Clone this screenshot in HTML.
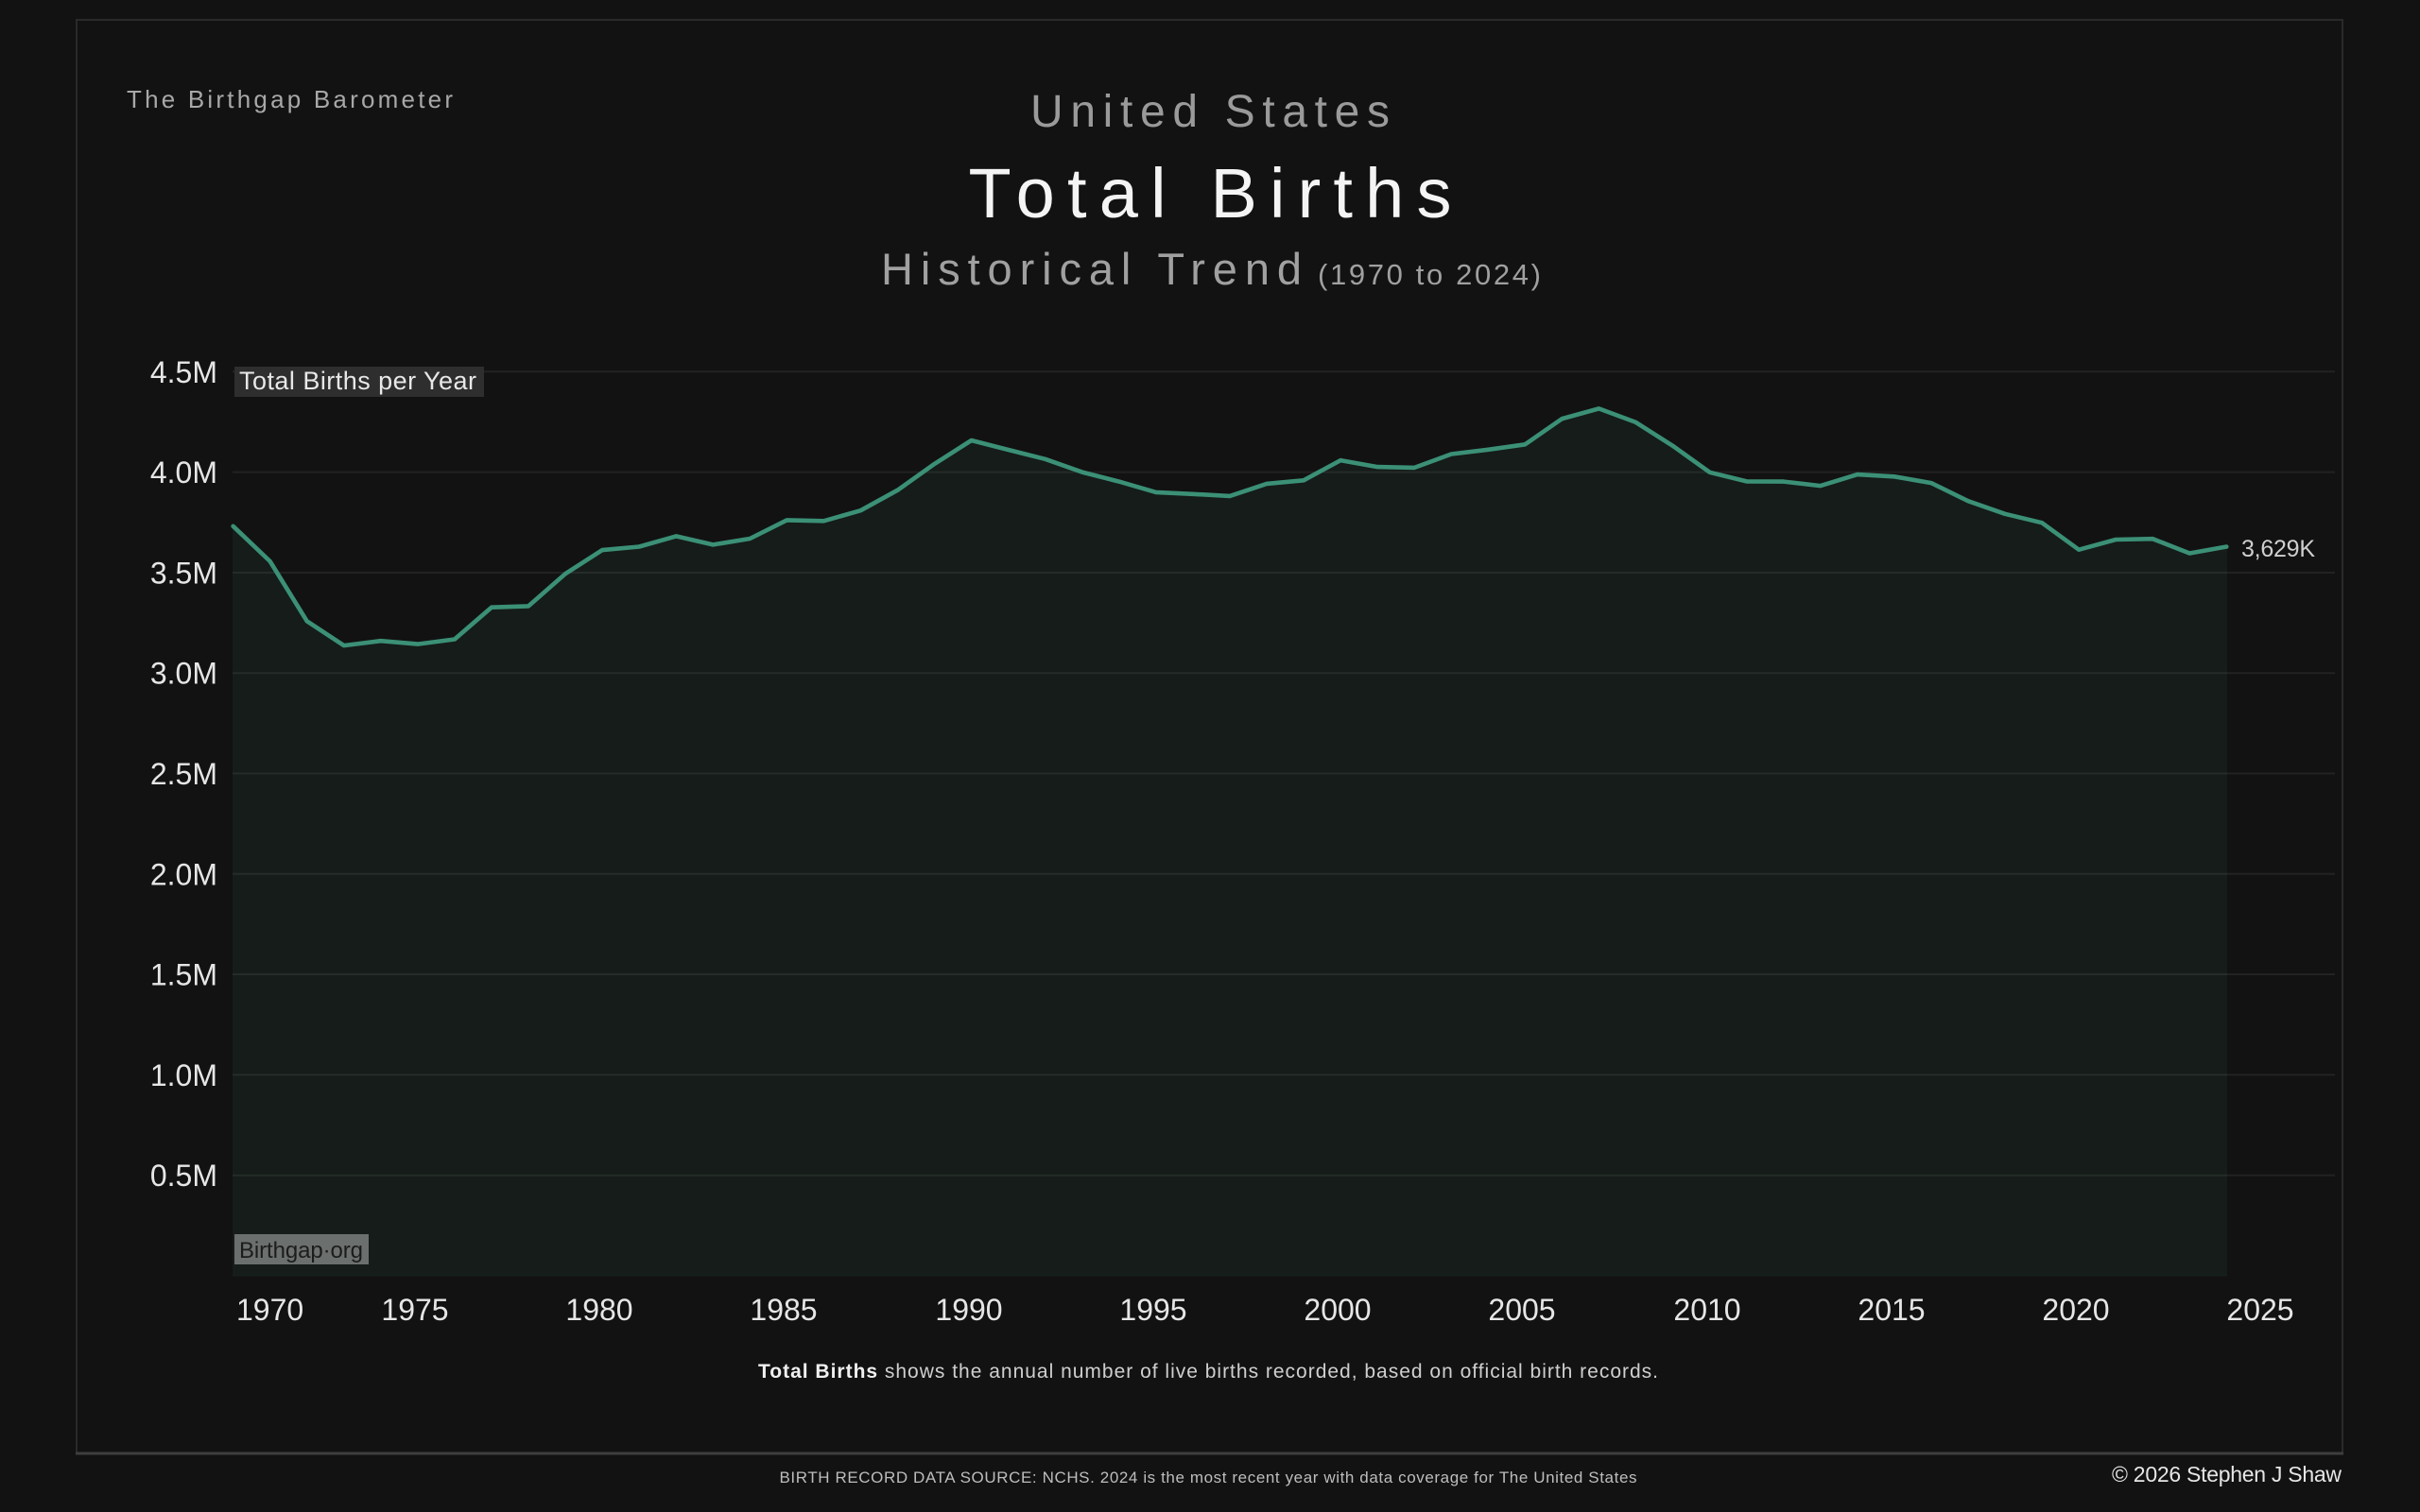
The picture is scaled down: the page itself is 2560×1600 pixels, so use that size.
<!DOCTYPE html>
<html>
<head>
<meta charset="utf-8">
<style>
html,body{margin:0;padding:0;background:#121212;}
body{width:2560px;height:1600px;overflow:hidden;}
svg{display:block;}
text{font-family:"Liberation Sans",sans-serif;}
</style>
</head>
<body>
<svg width="2560" height="1600" viewBox="0 0 2560 1600" xmlns="http://www.w3.org/2000/svg">
<rect x="0" y="0" width="2560" height="1600" fill="#121212"/>
<!-- frame -->
<rect x="81" y="21" width="2397" height="1517" fill="none" stroke="#2a2a2a" stroke-width="2"/>
<line x1="80" y1="1538" x2="2479" y2="1538" stroke="#3e3e3e" stroke-width="3"/>

<!-- header -->
<text x="134" y="114" font-size="26" fill="#a8a8a8" textLength="345">The Birthgap Barometer</text>
<text x="1280" y="134" font-size="48" fill="#9a9a9a" text-anchor="middle" textLength="380">United States</text>
<text x="1280" y="230" font-size="74" fill="#f4f4f4" text-anchor="middle" textLength="511">Total Births</text>
<text x="932" y="301" font-size="47" fill="#a0a0a0" textLength="445">Historical Trend</text>
<text x="1394" y="301" font-size="31" fill="#a0a0a0" textLength="236">(1970 to 2024)</text>

<!-- gridlines -->
<g stroke="#222222" stroke-width="2">
<line x1="246" y1="393.3" x2="2470" y2="393.3"/>
<line x1="246" y1="499.6" x2="2470" y2="499.6"/>
<line x1="246" y1="606" x2="2470" y2="606"/>
<line x1="246" y1="712.2" x2="2470" y2="712.2"/>
<line x1="246" y1="818.5" x2="2470" y2="818.5"/>
<line x1="246" y1="924.8" x2="2470" y2="924.8"/>
<line x1="246" y1="1031" x2="2470" y2="1031"/>
<line x1="246" y1="1137.4" x2="2470" y2="1137.4"/>
<line x1="246" y1="1243.7" x2="2470" y2="1243.7"/>
</g>

<!-- area -->
<polygon fill="#3e9479" fill-opacity="0.08" stroke="#3e9479" stroke-opacity="0.06" stroke-width="1.5" points="246.6,1350 246.6,556.8 285.65,594.0 324.7,657.3 363.75,683.1 402.8,678.2 441.85,681.6 480.9,676.5 519.95,642.7 559.0,641.4 598.05,607.2 637.1,582.1 676.15,578.5 715.2,567.4 754.25,576.4 793.3,570.0 832.35,550.4 871.4,551.3 910.45,540.2 949.5,518.7 988.55,490.9 1027.6,466.0 1066.65,476.0 1105.7,485.8 1144.75,499.6 1183.8,509.6 1222.85,520.9 1261.9,522.8 1300.95,524.9 1340.0,511.9 1379.05,508.3 1418.1,487.1 1457.15,494.1 1496.2,494.9 1535.25,480.5 1574.3,475.8 1613.35,470.3 1652.4,443.1 1691.45,432.4 1730.5,446.9 1769.55,471.8 1808.6,499.8 1847.65,509.4 1886.7,509.6 1925.75,514.1 1964.8,502.1 2003.85,504.3 2042.9,511.1 2081.95,530.2 2121.0,543.8 2160.05,553.2 2199.1,581.7 2238.15,571.0 2277.2,570.2 2316.25,585.5 2355.3,578.5 2355.3,1350"/>

<!-- line -->
<polyline fill="none" stroke="#3b9076" stroke-width="4.6" stroke-linejoin="round" stroke-linecap="round" points="246.6,556.8 285.65,594.0 324.7,657.3 363.75,683.1 402.8,678.2 441.85,681.6 480.9,676.5 519.95,642.7 559.0,641.4 598.05,607.2 637.1,582.1 676.15,578.5 715.2,567.4 754.25,576.4 793.3,570.0 832.35,550.4 871.4,551.3 910.45,540.2 949.5,518.7 988.55,490.9 1027.6,466.0 1066.65,476.0 1105.7,485.8 1144.75,499.6 1183.8,509.6 1222.85,520.9 1261.9,522.8 1300.95,524.9 1340.0,511.9 1379.05,508.3 1418.1,487.1 1457.15,494.1 1496.2,494.9 1535.25,480.5 1574.3,475.8 1613.35,470.3 1652.4,443.1 1691.45,432.4 1730.5,446.9 1769.55,471.8 1808.6,499.8 1847.65,509.4 1886.7,509.6 1925.75,514.1 1964.8,502.1 2003.85,504.3 2042.9,511.1 2081.95,530.2 2121.0,543.8 2160.05,553.2 2199.1,581.7 2238.15,571.0 2277.2,570.2 2316.25,585.5 2355.3,578.5"/>

<!-- end label -->
<text x="2371" y="589" font-size="25" fill="#cfcfcf" textLength="78">3,629K</text>

<!-- y axis labels -->
<g font-size="32" fill="#e6e6e6" text-anchor="end">
<text x="230" y="404.8">4.5M</text>
<text x="230" y="511.1">4.0M</text>
<text x="230" y="617.5">3.5M</text>
<text x="230" y="723.7">3.0M</text>
<text x="230" y="830">2.5M</text>
<text x="230" y="936.3">2.0M</text>
<text x="230" y="1042.5">1.5M</text>
<text x="230" y="1148.9">1.0M</text>
<text x="230" y="1255.2">0.5M</text>
</g>

<!-- x axis labels -->
<g font-size="32" fill="#e6e6e6" text-anchor="middle">
<text x="250" y="1397" text-anchor="start">1970</text>
<text x="439" y="1397">1975</text>
<text x="634" y="1397">1980</text>
<text x="829" y="1397">1985</text>
<text x="1025" y="1397">1990</text>
<text x="1220" y="1397">1995</text>
<text x="1415" y="1397">2000</text>
<text x="1610" y="1397">2005</text>
<text x="1806" y="1397">2010</text>
<text x="2001" y="1397">2015</text>
<text x="2196" y="1397">2020</text>
<text x="2391" y="1397">2025</text>
</g>

<!-- in-plot labels -->
<rect x="248" y="388" width="264" height="32" fill="#2e2e2e"/>
<text x="253" y="412" font-size="27" fill="#e8e8e8" textLength="251">Total Births per Year</text>
<rect x="248" y="1306" width="142" height="32" fill="#6b6f6d"/>
<text x="253" y="1331" font-size="24" fill="#1c1c1c" textLength="131">Birthgap·org</text>

<!-- caption -->
<text x="1278" y="1458" font-size="21" fill="#cfcfcf" text-anchor="middle" textLength="952"><tspan font-weight="bold" fill="#f0f0f0">Total Births</tspan> shows the annual number of live births recorded, based on official birth records.</text>

<!-- footer -->
<text x="1278" y="1569" font-size="17" fill="#bdbdbd" text-anchor="middle" textLength="907">BIRTH RECORD DATA SOURCE: NCHS. 2024 is the most recent year with data coverage for The United States</text>
<text x="2477" y="1568" font-size="23" fill="#e6e6e6" text-anchor="end" textLength="243">© 2026 Stephen J Shaw</text>
</svg>
</body>
</html>
